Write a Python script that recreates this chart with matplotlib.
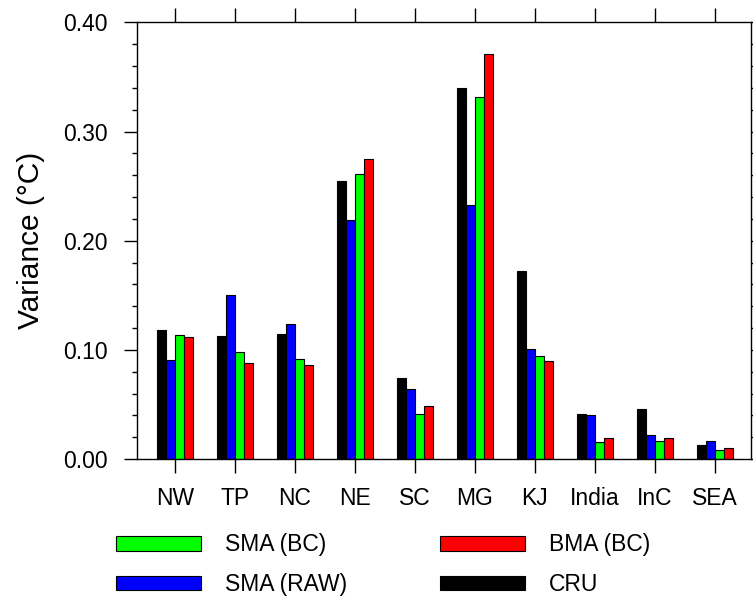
import numpy as np
from matplotlib import pyplot as plt
import matplotlib.ticker as mticker

plt.rcParams['font.family'] = ['Liberation Sans', 'DejaVu Sans']

# Regions and variance of each product (degC)
regions = ['NW', 'TP', 'NC', 'NE', 'SC', 'MG', 'KJ', 'India', 'InC', 'SEA']
cru = [0.118, 0.113, 0.115, 0.255, 0.074, 0.340, 0.172, 0.041, 0.046, 0.013]
sma_raw = [0.091, 0.150, 0.124, 0.219, 0.064, 0.233, 0.101, 0.040, 0.022, 0.017]
sma_bc = [0.114, 0.098, 0.092, 0.261, 0.041, 0.332, 0.094, 0.016, 0.017, 0.008]
bma_bc = [0.112, 0.088, 0.086, 0.275, 0.049, 0.371, 0.090, 0.019, 0.019, 0.010]

x = np.arange(len(regions)) + 1
w = 0.15

fig = plt.figure(figsize=(7.53, 5.97), dpi=100)
ax = fig.add_axes([0.182, 0.231, 0.8153, 0.7314])

b_cru = ax.bar(x - 1.5*w, cru, w, color='black', edgecolor='black', linewidth=0.8, label='CRU')
b_raw = ax.bar(x - 0.5*w, sma_raw, w, color='#0000ff', edgecolor='black', linewidth=0.8, label='SMA (RAW)')
b_sbc = ax.bar(x + 0.5*w, sma_bc, w, color='#00ff00', edgecolor='black', linewidth=0.8, label='SMA (BC)')
b_bbc = ax.bar(x + 1.5*w, bma_bc, w, color='#ff0000', edgecolor='black', linewidth=0.8, label='BMA (BC)')

ax.set_xlim(0.37, 10.6)
ax.set_ylim(0, 0.40)
ax.set_xticks(x)
ax.set_xticklabels(regions, fontsize=16.5)
ax.yaxis.set_major_locator(mticker.MultipleLocator(0.1))
ax.yaxis.set_minor_locator(mticker.MultipleLocator(0.02))
ax.yaxis.set_major_formatter(mticker.FormatStrFormatter('%.2f'))
ax.tick_params(axis='y', which='major', direction='out', length=9.4, width=1.0,
               labelsize=16.5, pad=12, right=True)
ax.tick_params(axis='y', which='minor', direction='out', length=3.8, width=1.0, right=True)
ax.tick_params(axis='x', which='major', direction='out', length=9.8, width=1.0,
               pad=10.5, top=True)
for s in ax.spines.values():
    s.set_linewidth(1.0)

ax.set_ylabel('Variance (°C)', fontsize=21.5, labelpad=13)

fig.legend(handles=[b_sbc, b_raw, b_bbc, b_cru], ncol=2, loc='upper left',
           bbox_to_anchor=(0.1537, 0.1064), frameon=False, fontsize=16.5,
           handlelength=3.71, handleheight=0.6, handletextpad=1.05,
           columnspacing=4.06, labelspacing=0.73, borderpad=0, borderaxespad=0)

plt.savefig('out.png', dpi=100)
